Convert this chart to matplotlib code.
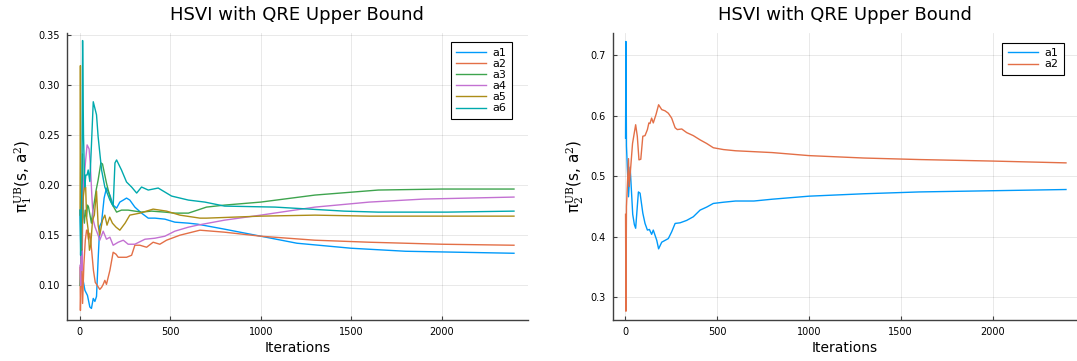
import numpy as np
import matplotlib.pyplot as plt

plt.rcParams['font.family'] = ['DejaVu Sans']
plt.rcParams['mathtext.fontset'] = 'custom'
plt.rcParams['mathtext.rm'] = 'DejaVu Serif'
plt.rcParams['mathtext.it'] = 'DejaVu Serif:italic'

# ---- left panel: player 1, six actions ----
it_a1 = [1, 3, 6, 10, 18, 28, 42, 55, 64, 74, 83, 92, 101, 110, 120, 134, 147, 166, 184, 203,
         221, 240, 258, 276, 304, 341, 378, 415, 470, 525, 600, 650, 800, 1000, 1200, 1500,
         1800, 2100, 2400]
p1_a1 = [0.175, 0.160, 0.125, 0.105, 0.105, 0.095, 0.090, 0.0785, 0.077, 0.087, 0.084, 0.089,
         0.126, 0.159, 0.163, 0.187, 0.197, 0.190, 0.180, 0.177, 0.183, 0.185, 0.187, 0.185,
         0.178, 0.172, 0.167, 0.167, 0.166, 0.163, 0.162, 0.161, 0.156, 0.149, 0.142, 0.137,
         0.134, 0.133, 0.132]

it_a2 = [1, 3, 6, 10, 15, 22, 30, 37, 41, 47, 55, 65, 75, 85, 96, 110, 120, 129, 138, 147,
         166, 184, 200, 212, 258, 286, 304, 332, 369, 405, 442, 479, 553, 664, 800, 1000,
         1300, 1600, 2000, 2400]
p1_a2 = [0.118, 0.075, 0.100, 0.140, 0.082, 0.120, 0.145, 0.155, 0.155, 0.146, 0.152, 0.135,
         0.115, 0.103, 0.100, 0.096, 0.098, 0.101, 0.105, 0.101, 0.115, 0.133, 0.131, 0.128,
         0.128, 0.130, 0.140, 0.140, 0.138, 0.143, 0.141, 0.145, 0.150, 0.155, 0.153, 0.149,
         0.145, 0.143, 0.141, 0.140]

it_a3 = [1, 5, 10, 15, 20, 25, 30, 37, 42, 48, 55, 64, 72, 79, 90, 101, 116, 125, 147, 175,
         203, 230, 267, 341, 396, 470, 525, 600, 700, 800, 1000, 1300, 1650, 2000, 2400]
p1_a3 = [0.100, 0.120, 0.165, 0.231, 0.170, 0.162, 0.175, 0.168, 0.180, 0.178, 0.171, 0.162,
         0.175, 0.182, 0.195, 0.205, 0.222, 0.221, 0.202, 0.182, 0.173, 0.175, 0.175, 0.173,
         0.174, 0.173, 0.172, 0.172, 0.178, 0.180, 0.183, 0.190, 0.195, 0.196, 0.196]

it_a4 = [1, 4, 8, 12, 18, 25, 32, 40, 51, 58, 66, 74, 84, 101, 110, 129, 147, 166, 184, 212,
         240, 267, 304, 360, 415, 470, 525, 600, 650, 800, 1000, 1300, 1600, 1900, 2400]
p1_a4 = [0.120, 0.100, 0.150, 0.115, 0.200, 0.210, 0.225, 0.240, 0.236, 0.220, 0.190, 0.165,
         0.158, 0.150, 0.145, 0.154, 0.146, 0.148, 0.140, 0.143, 0.145, 0.141, 0.141, 0.146,
         0.147, 0.149, 0.154, 0.158, 0.160, 0.165, 0.170, 0.178, 0.183, 0.186, 0.188]

it_a5 = [1, 3, 6, 10, 15, 20, 26, 32, 37, 46, 53, 60, 70, 80, 92, 101, 110, 125, 138, 150,
         165, 180, 200, 221, 250, 276, 332, 405, 479, 553, 664, 700, 1000, 1300, 1600, 2400]
p1_a5 = [0.170, 0.319, 0.140, 0.135, 0.180, 0.190, 0.198, 0.198, 0.168, 0.155, 0.135, 0.140,
         0.165, 0.170, 0.194, 0.160, 0.150, 0.165, 0.170, 0.160, 0.168, 0.162, 0.158, 0.155,
         0.162, 0.170, 0.172, 0.176, 0.174, 0.170, 0.167, 0.167, 0.169, 0.170, 0.169, 0.169]

it_a6 = [1, 4, 8, 12, 15, 20, 27, 33, 40, 46, 55, 64, 74, 92, 101, 120, 138, 166, 184, 194,
         203, 230, 258, 286, 314, 341, 378, 433, 507, 600, 691, 800, 1080, 1460, 1650, 2031,
         2400]
p1_a6 = [0.175, 0.130, 0.165, 0.210, 0.344, 0.250, 0.198, 0.210, 0.210, 0.215, 0.2035, 0.240,
         0.283, 0.270, 0.248, 0.215, 0.198, 0.185, 0.179, 0.222, 0.225, 0.215, 0.203, 0.198,
         0.192, 0.198, 0.195, 0.197, 0.189, 0.185, 0.183, 0.179, 0.178, 0.174, 0.173, 0.173,
         0.174]

# ---- right panel: player 2, two actions ----
it_b1 = [1, 3, 6, 17, 26, 40, 49, 56, 71, 80, 95, 107, 120, 131, 143, 152, 171, 181, 198, 216,
         234, 252, 271, 298, 334, 370, 407, 443, 479, 534, 600, 700, 800, 1000, 1300, 1600,
         2000, 2400]
p2_a1 = [0.563, 0.7225, 0.550, 0.466, 0.515, 0.437, 0.420, 0.414, 0.474, 0.472, 0.439, 0.422,
         0.411, 0.412, 0.404, 0.411, 0.394, 0.380, 0.391, 0.394, 0.397, 0.408, 0.422, 0.423,
         0.427, 0.433, 0.444, 0.449, 0.455, 0.457, 0.459, 0.459, 0.462, 0.467, 0.471, 0.474,
         0.476, 0.478]

it_b2 = [1, 3, 6, 17, 21, 39, 56, 65, 74, 84, 95, 107, 120, 128, 134, 143, 152, 167, 181, 198,
         216, 234, 252, 271, 283, 307, 334, 370, 407, 443, 479, 534, 600, 800, 1000, 1300,
         1600, 2000, 2400]
p2_a2 = [0.437, 0.277, 0.450, 0.529, 0.483, 0.554, 0.585, 0.566, 0.527, 0.528, 0.566, 0.567,
         0.577, 0.588, 0.587, 0.596, 0.588, 0.602, 0.618, 0.610, 0.608, 0.604, 0.596, 0.580,
         0.577, 0.578, 0.572, 0.567, 0.560, 0.554, 0.547, 0.544, 0.542, 0.539, 0.534, 0.530,
         0.5275, 0.525, 0.522]

colors = ['#009AFA', '#E36F47', '#3EA44E', '#C371D2', '#AC8D18', '#00A9AD']
title = 'HSVI with QRE Upper Bound'


def style(ax, yticks, fmt, ylab):
    for s in ['top', 'right']:
        ax.spines[s].set_visible(False)
    for s in ['left', 'bottom']:
        ax.spines[s].set_color('#404040')
        ax.spines[s].set_linewidth(1.0)
    ax.set_xticks([0, 500, 1000, 1500, 2000])
    ax.set_yticks(yticks)
    ax.set_yticklabels([fmt % v for v in yticks])
    ax.tick_params(direction='in', length=3, width=0.8, labelsize=7, pad=5, color='#404040')
    ax.grid(True, color='#000000', alpha=0.1, linewidth=0.6)
    ax.set_xlabel('Iterations', fontsize=10, labelpad=3)
    ax.set_ylabel(ylab, fontsize=11, labelpad=3)
    ax.set_title(title, fontsize=13, pad=9)


fig = plt.figure(figsize=(10.77, 3.61), dpi=100)
ax1 = fig.add_axes([0.0619, 0.1136, 0.4281, 0.7958])
ax2 = fig.add_axes([0.5689, 0.1136, 0.4311, 0.7958])

left = [(it_a1, p1_a1), (it_a2, p1_a2), (it_a3, p1_a3),
        (it_a4, p1_a4), (it_a5, p1_a5), (it_a6, p1_a6)]
for i, (x, y) in enumerate(left):
    ax1.plot(x, y, color=colors[i], lw=1.0, label='a%d' % (i + 1))
ax1.set_xlim(-73, 2476)
ax1.set_ylim(0.0655, 0.3518)
style(ax1, [0.10, 0.15, 0.20, 0.25, 0.30, 0.35], '%.2f',
      r'π$_1^{\mathrm{UB}}$(s, a$^2$)')
leg = ax1.legend(loc='upper right', bbox_to_anchor=(0.9666, 0.9666), borderaxespad=0,
                 fontsize=8, frameon=True, fancybox=False, framealpha=1,
                 edgecolor='black', handlelength=2.7, labelspacing=0.1,
                 borderpad=0.5, handletextpad=0.6)
leg.get_frame().set_linewidth(0.8)

ax2.plot(it_b1, p2_a1, color=colors[0], lw=1.0, label='a1')
ax2.plot(it_b2, p2_a2, color=colors[1], lw=1.0, label='a2')
ax2.set_xlim(-69, 2460)
ax2.set_ylim(0.2625, 0.737)
style(ax2, [0.3, 0.4, 0.5, 0.6, 0.7], '%.1f',
      r'π$_2^{\mathrm{UB}}$(s, a$^2$)')
leg = ax2.legend(loc='upper right', bbox_to_anchor=(0.972, 0.965), borderaxespad=0,
                 fontsize=8, frameon=True, fancybox=False, framealpha=1,
                 edgecolor='black', handlelength=2.7, labelspacing=0.1,
                 borderpad=0.5, handletextpad=0.6)
leg.get_frame().set_linewidth(0.8)

fig.savefig('out.png', dpi=100)
